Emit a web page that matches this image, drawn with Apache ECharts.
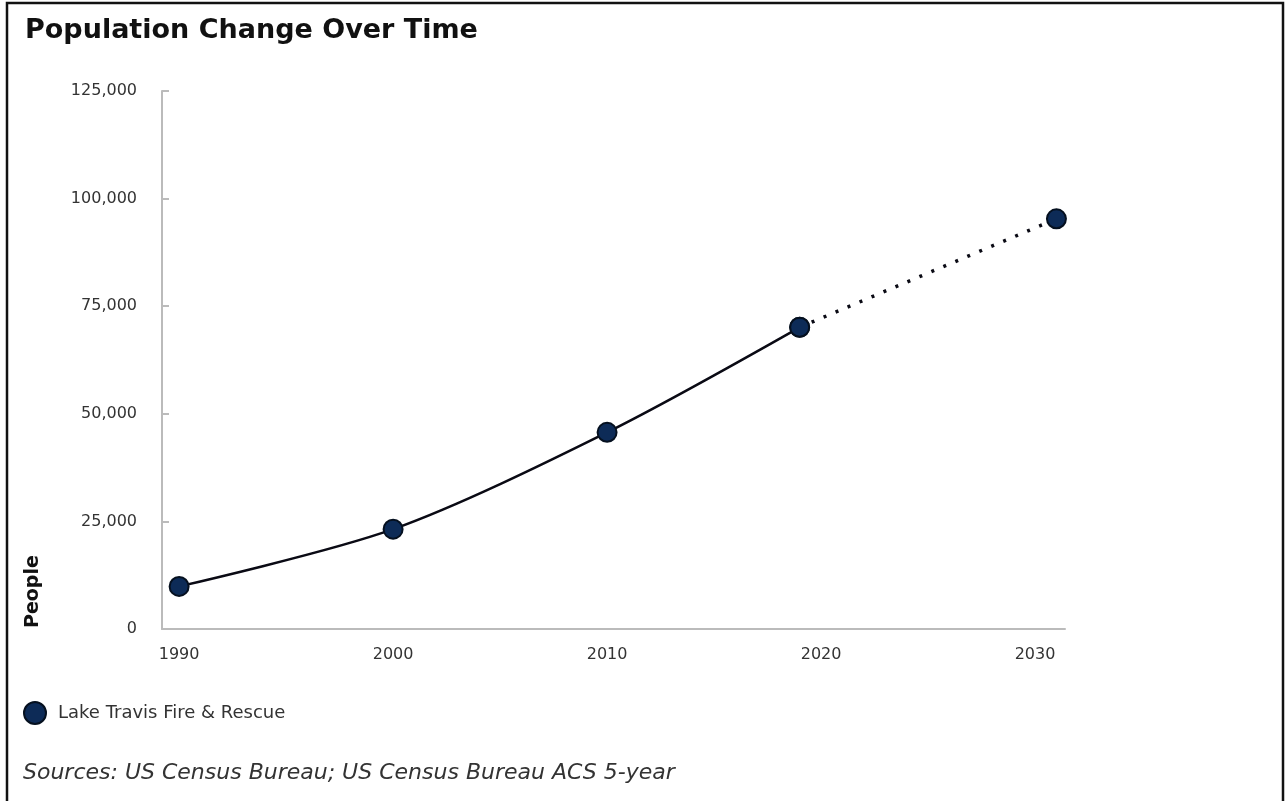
<!DOCTYPE html>
<html>
<head>
<meta charset="utf-8">
<style>
html,body{margin:0;padding:0;background:#fff;}
#chart{width:1285px;height:801px;}
</style>
<script src="https://cdn.jsdelivr.net/npm/echarts@6/dist/echarts.min.js"></script>
</head>
<body>
<div id="chart"></div>
<script>
const seriesName = 'Lake Travis Fire & Rescue';
const actualYears = [1990, 2000, 2010, 2019];
const actualValues = [9900, 23200, 45700, 70100];
const projYears = [2019, 2031];
const projValues = [70100, 95300];
const xTickLabels = [1990, 2000, 2010, 2020, 2030];
const yTicks = [0, 25000, 50000, 75000, 100000, 125000];

const chart = echarts.init(document.getElementById('chart'), null, {renderer: 'canvas'});
const fontFam = '"DejaVu Sans", sans-serif';
const markerStyle = {color: '#0d2b57', borderColor: '#05101f', borderWidth: 2};

chart.setOption({
  backgroundColor: '#fff',
  animation: false,
  title: {
    text: 'Population Change Over Time',
    left: 20, top: 12,
    textStyle: {fontFamily: '"DejaVu Sans", sans-serif', fontWeight: 'bold', fontSize: 27, color: '#111'}
  },
  legend: {
    left: 23, top: 701, padding: 0,
    itemWidth: 22, itemHeight: 22, itemGap: 8,
    data: [{name: seriesName, icon: 'circle'}],
    textStyle: {fontFamily: fontFam, fontSize: 18, color: '#333', padding: [0, 0, 0, 7]}
  },
  grid: {left: 162, right: 220, top: 91, bottom: 172, containLabel: false},
  xAxis: {
    type: 'value',
    min: 1989.2, max: 2031.4,
    splitLine: {show: false},
    axisLine: {show: true, lineStyle: {color: '#bbb', width: 2}},
    axisTick: {show: false},
    axisLabel: {
      customValues: xTickLabels,
      margin: 18,
      fontFamily: fontFam, fontSize: 16, color: '#333',
      formatter: v => String(v)
    }
  },
  yAxis: {
    type: 'value',
    min: 0, max: 125000, interval: 25000,
    splitLine: {show: false},
    axisLine: {show: true, lineStyle: {color: '#bbb', width: 2}},
    axisTick: {show: true, inside: true, length: 7, lineStyle: {color: '#bbb', width: 2}},
    axisLabel: {
      margin: 25,
      fontFamily: fontFam, fontSize: 16, color: '#333',
      formatter: v => v.toLocaleString('en-US')
    }
  },
  series: [
    {
      name: seriesName,
      type: 'line',
      smooth: 0.3,
      symbol: 'circle',
      symbolSize: 19,
      lineStyle: {color: '#0a0a14', width: 2.5},
      itemStyle: markerStyle,
      data: actualYears.map((y, i) => [y, actualValues[i]]),
      z: 3
    },
    {
      name: seriesName + ' projection',
      type: 'line',
      symbol: 'circle',
      symbolSize: 19,
      lineStyle: {color: '#0a0a14', width: 3.5, type: [3, 10], cap: 'butt'},
      itemStyle: markerStyle,
      data: projYears.map((y, i) => [y, projValues[i]]),
      z: 2
    }
  ],
  graphic: [
    {
      type: 'text',
      x: 33, y: 628,
      rotation: Math.PI / 2,
      style: {text: 'People', font: 'bold 19px "DejaVu Sans", sans-serif', fill: '#111', textAlign: 'left', textVerticalAlign: 'middle'}
    },
    {
      type: 'text',
      left: 23, top: 762,
      style: {text: 'Sources: US Census Bureau; US Census Bureau ACS 5-year', font: 'oblique 22px "DejaVu Sans", sans-serif', fill: '#333'}
    },
    {
      type: 'polyline',
      shape: {points: [[7, 830], [7, 3], [1283, 3], [1283, 830]]},
      style: {stroke: '#111', lineWidth: 2.5, fill: null}
    }
  ]
});
</script>
</body>
</html>
